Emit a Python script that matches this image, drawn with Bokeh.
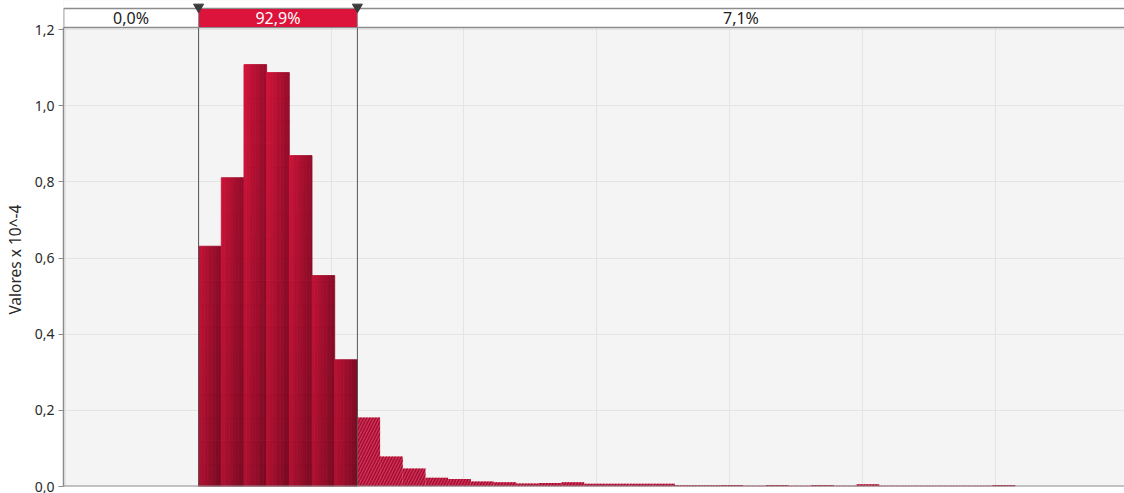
import numpy as np
from bokeh.plotting import figure
from bokeh.models import Range1d, FixedTicker, CustomJSTickFormatter, Span, ColumnDataSource
from bokeh.core.properties import value
from bokeh.embed import file_html
from bokeh.resources import INLINE

# ---------------- data ----------------
selected_values = [0.631, 0.811, 1.108, 1.087, 0.869, 0.554, 0.333]
tail_values = [0.181, 0.079, 0.047, 0.023, 0.020, 0.013, 0.011, 0.008, 0.009, 0.011,
               0.007, 0.007, 0.007, 0.007, 0.003, 0.003, 0.004, 0.002, 0.004, 0.002,
               0.004, 0.002, 0.006, 0.002, 0.002, 0.002, 0.002, 0.002, 0.004]
bin_start = 1.003
bin_width = 0.1707
band_labels = ["0,0%", "92,9%", "7,1%"]
y_ticks = [0.0, 0.2, 0.4, 0.6, 0.8, 1.0, 1.2]
x_grid = [0, 1, 2, 3, 4, 5, 6, 7, 8]
y_label = "Valores x 10^-4"

# ---------------- layout constants ----------------
W, H = 1124, 493
X0, X1 = -0.0135, 7.970
Y_TOP = 1.2762
BAND_BOTTOM = 1.2053
BAND_TOP = 1.2552
TRI_Y = 1.2591
FONT = "Noto Sans"

p = figure(width=W, height=H, title=None, toolbar_location=None, output_backend="svg",
           x_range=Range1d(X0, X1), y_range=Range1d(0, Y_TOP),
           min_border_left=63, min_border_right=0, min_border_top=0, min_border_bottom=7)
p.background_fill_color = "#f4f4f4"
p.border_fill_color = "white"
p.outline_line_color = None

# axes
p.xaxis.visible = False
yax = p.yaxis[0]
yax.ticker = FixedTicker(ticks=y_ticks)
yax.bounds = (0, BAND_BOTTOM)
yax.formatter = CustomJSTickFormatter(code="return tick.toFixed(1).replace('.', ',');")
yax.major_label_text_font = FONT
yax.major_label_text_font_size = "14px"
yax.major_label_text_color = "#2a2a2a"
yax.major_label_standoff = 4
yax.major_tick_out = 5
yax.major_tick_in = 0
yax.minor_tick_line_color = None
yax.axis_line_color = "#8c8c8c"
yax.axis_line_width = 1.5
yax.major_tick_line_color = "#8c8c8c"
# title of the axis; trailing no-break spaces move it down to the centre of the plot area
yax.axis_label = y_label + "\u00a0" * 8
yax.axis_label_text_font = FONT
yax.axis_label_text_font_size = "15.5px"
yax.axis_label_text_font_style = "normal"
yax.axis_label_text_color = "#2a2a2a"
yax.axis_label_standoff = 6

p.ygrid.ticker = FixedTicker(ticks=y_ticks)
p.ygrid.grid_line_color = "#e4e4e4"
p.xgrid.ticker = FixedTicker(ticks=x_grid)
p.xgrid.grid_line_color = "#e4e4e4"

# ---------------- selected bars with shading ----------------
light = np.array([216, 20, 60])
dark = np.array([118, 10, 33])

def shade(u, v):
    t = 0.62 * u + 0.38 * (1 - v)
    c = light + (dark - light) * t
    return "#%02x%02x%02x" % tuple(int(round(x)) for x in c)

NS, DV = 8, 0.06
rows = dict(l=[], r=[], b=[], t=[], c=[])
for i, h in enumerate(selected_values):
    left = bin_start + i * bin_width
    b = 0.0
    while b < h - 1e-9:
        t = min(b + DV, h)
        v = (b + t) / 2 / 1.2
        for s in range(NS):
            rows["l"].append(left + bin_width * s / NS)
            rows["r"].append(left + bin_width * (s + 1) / NS)
            rows["b"].append(b)
            rows["t"].append(t)
            rows["c"].append(shade((s + 0.5) / NS, v))
        b = t
src = ColumnDataSource(rows)
p.quad(left="l", right="r", bottom="b", top="t", fill_color="c", line_color="c",
       line_width=0.8, source=src)

# ---------------- tail bars (hatched) ----------------
n_sel = len(selected_values)
tl = [bin_start + (n_sel + i) * bin_width for i in range(len(tail_values))]
tr = [x + bin_width for x in tl]
p.quad(left=tl, right=tr, bottom=0, top=tail_values, fill_color="#d82c55",
       line_color=None, hatch_pattern="/", hatch_color="#920e2e", hatch_scale=6,
       hatch_weight=1.4, hatch_alpha=0.9)

# baseline
p.add_layout(Span(location=0, dimension="width", line_color="#8c8c8c", line_width=2))

# ---------------- selection markers ----------------
sel_left = bin_start
sel_right = bin_start + n_sel * bin_width
p.segment(x0=[sel_left, sel_right], y0=[0, 0], x1=[sel_left, sel_right],
          y1=[BAND_BOTTOM, BAND_BOTTOM], line_color="#555555", line_width=1)

# ---------------- top band ----------------
p.quad(left=X0, right=X1, bottom=BAND_BOTTOM, top=Y_TOP, fill_color="white", line_color=None)
p.quad(left=X0 + 0.001, right=X1 + 0.05, bottom=BAND_BOTTOM, top=BAND_TOP,
       fill_color="white", line_color="#8c8c8c", line_width=1.5)
p.quad(left=sel_left, right=sel_right, bottom=BAND_BOTTOM, top=BAND_TOP,
       fill_color="#dc143c", line_color="#8c8c8c", line_width=1)
band_y = (BAND_BOTTOM + BAND_TOP) / 2
p.text(x=[(X0 + sel_left) / 2, (sel_left + sel_right) / 2, (sel_right + X1) / 2],
       y=[band_y] * 3, text=band_labels,
       text_color=["#222222", "white", "#222222"],
       text_font=value(FONT), text_font_size="16px",
       text_align="center", text_baseline="middle")
p.scatter(x=[sel_left, sel_right], y=[TRI_Y, TRI_Y], marker="inverted_triangle",
          size=10, fill_color="#3a3a3a", line_color="#3a3a3a")

open("out.html", "w").write(file_html(p, INLINE))
